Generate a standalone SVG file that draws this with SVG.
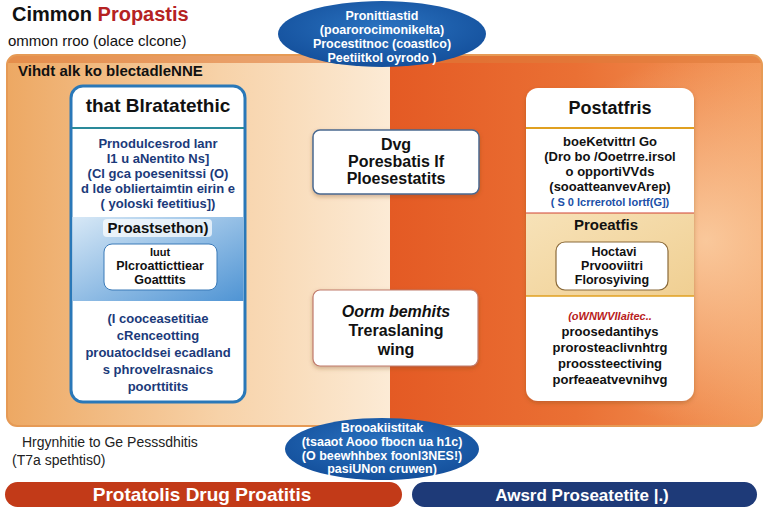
<svg xmlns="http://www.w3.org/2000/svg" width="768" height="512" viewBox="0 0 768 512">
<defs>
<linearGradient id="gl" x1="0" y1="0" x2="1" y2="0">
<stop offset="0" stop-color="#eda863"/>
<stop offset="0.55" stop-color="#f7d2a8"/>
<stop offset="1" stop-color="#fcebd6"/>
</linearGradient>
<linearGradient id="gr" x1="0" y1="0" x2="1" y2="0">
<stop offset="0" stop-color="#e45a24"/>
<stop offset="0.5" stop-color="#ea7034"/>
<stop offset="1" stop-color="#f39a5c"/>
</linearGradient>
<radialGradient id="glow" cx="0.85" cy="0.5" r="0.5">
<stop offset="0" stop-color="#fbd2a8" stop-opacity="0.85"/>
<stop offset="1" stop-color="#fbd2a8" stop-opacity="0"/>
</radialGradient>
<linearGradient id="gb" x1="0" y1="0" x2="1" y2="1">
<stop offset="0" stop-color="#d7e8f6"/>
<stop offset="1" stop-color="#4f94d4"/>
</linearGradient>
<linearGradient id="gt" x1="0" y1="0" x2="1" y2="1">
<stop offset="0" stop-color="#f7e2b8"/>
<stop offset="1" stop-color="#f0cf92"/>
</linearGradient>
<radialGradient id="ge" cx="0.5" cy="0.4" r="0.6">
<stop offset="0" stop-color="#2a72c0"/>
<stop offset="1" stop-color="#14509c"/>
</radialGradient>
<filter id="sh" x="-10%" y="-10%" width="120%" height="130%">
<feDropShadow dx="0" dy="2" stdDeviation="2" flood-color="#7a4a20" flood-opacity="0.35"/>
</filter>
</defs>
<style>
text{font-family:"Liberation Sans",Arial,sans-serif;font-weight:bold}
.c{text-anchor:middle}
.n{font-weight:normal}
.i{font-style:italic}
.nv{fill:#1b3a7a;font-size:13px}
.bk{fill:#111;font-size:13px}
.wt{fill:#fff;font-size:12.5px}
.mid{fill:#111;font-size:16px}
</style>
<rect width="768" height="512" fill="#fff"/>

<!-- title -->
<g id="title">
<text x="12" y="21" font-size="20" fill="#111">Cimmon <tspan fill="#b52222">Propastis</tspan></text>
<text class="n" x="8" y="46" font-size="15" fill="#111">ommon rroo (olace clcone)</text>
</g>

<!-- background panel -->
<g id="panel">
<clipPath id="pc"><rect x="7" y="55" width="755" height="371" rx="10"/></clipPath>
<g clip-path="url(#pc)">
<rect x="7" y="55" width="385" height="371" fill="url(#gl)"/>
<rect x="390" y="55" width="372" height="371" fill="url(#gr)"/>
<rect x="390" y="55" width="372" height="371" fill="url(#glow)"/>
<rect x="7" y="55" width="755" height="8" fill="#e07c3a" opacity="0.6"/>
</g>
<rect x="7" y="55" width="755" height="371" rx="10" fill="none" stroke="#e69a55" stroke-width="2"/>
<text x="18" y="76" font-size="15" fill="#111">Vihdt alk ko blectadleNNE</text>
</g>

<!-- top ellipse -->
<g id="top-ellipse">
<ellipse cx="382" cy="34" rx="104" ry="33" fill="url(#ge)"/>
<text class="c wt" x="382" y="20" font-size="15">Pronittiastid</text>
<text class="c wt" x="382" y="34">(poarorocimonikelta)</text>
<text class="c wt" x="382" y="48">Procestitnoc (coastlco)</text>
<text class="c wt" x="382" y="62">Peetiitkol oyrodo )</text>
</g>

<!-- left card -->
<g id="left-card">
<rect x="71" y="86" width="174" height="316" rx="12" fill="#fff" stroke="#2a78b8" stroke-width="3"/>
<line x1="72" y1="128" x2="244" y2="128" stroke="#2a8a9a" stroke-width="2"/>
<text class="c" x="158" y="112" font-size="19" fill="#111">that Blratatethic</text>
<text class="c nv" x="158" y="148">Prnodulcesrod lanr</text>
<text class="c nv" x="158" y="163">I1 u  aNentito Ns]</text>
<text class="c nv" x="158" y="178">(Cl gca poesenitssi (O)</text>
<text class="c nv" x="158" y="193">d lde obliertaimtin eirin e</text>
<text class="c nv" x="158" y="208" font-size="11">( yoloski feetitius])</text>
<rect x="72.5" y="217" width="171" height="84" fill="url(#gb)"/>
<rect x="103" y="219" width="109" height="18" rx="4" fill="#fff" opacity="0.7"/>
<text class="c" x="158" y="233" font-size="15" fill="#111">Proastsethon)</text>
<rect x="104" y="244" width="113" height="46" rx="8" fill="#fff" stroke="#3a7ab8" stroke-width="1"/>
<text class="c" x="160" y="256" font-size="11" fill="#111">Iuut</text>
<text class="c" x="160" y="270" font-size="12.5" fill="#111">Plcroatticttiear</text>
<text class="c" x="160" y="284" font-size="12.5" fill="#111">Goatttits</text>
<text class="c nv" x="158" y="323">(I cooceasetitiae</text>
<text class="c nv" x="158" y="340">cRenceotting</text>
<text class="c nv" x="158" y="357">prouatocldsei ecadland</text>
<text class="c nv" x="158" y="374">s phrovelrasnaics</text>
<text class="c nv" x="158" y="391">poorttitits</text>
</g>

<!-- middle boxes -->
<g id="mid-box-1">
<rect x="313" y="130" width="166" height="64" rx="7" fill="#fff" stroke="#4a6a90" stroke-width="1.5" filter="url(#sh)"/>
<text class="c mid" x="396" y="150">Dvg</text>
<text class="c mid" x="396" y="167">Poresbatis If</text>
<text class="c mid" x="396" y="184">Ploesestatits</text>
</g>
<g id="mid-box-2">
<rect x="313" y="290" width="165" height="76" rx="7" fill="#fff" stroke="#c07a6a" stroke-width="1.2" filter="url(#sh)"/>
<text class="c mid i" x="396" y="317">Oorm bemhits</text>
<text class="c mid" x="396" y="336">Treraslaning</text>
<text class="c mid" x="396" y="355">wing</text>
</g>

<!-- right card -->
<g id="right-card">
<rect x="526" y="88" width="168" height="313" rx="12" fill="#fff" filter="url(#sh)"/>
<line x1="526" y1="128" x2="694" y2="128" stroke="#e0a020" stroke-width="2"/>
<text class="c" x="610" y="114" font-size="18" fill="#111">Postatfris</text>
<text class="c bk" x="610" y="146">boeKetvittrl Go</text>
<text class="c bk" x="610" y="161">(Dro bo /Ooetrre.irsol</text>
<text class="c bk" x="610" y="176">o opportiVVds</text>
<text class="c bk" x="610" y="191">(sooatteanvevArep)</text>
<text class="c" x="610" y="206" font-size="11" fill="#2050a8">( S 0 lcrrerotol lortf(G])</text>
<rect x="526" y="213" width="168" height="83" fill="url(#gt)"/>
<line x1="526" y1="213" x2="694" y2="213" stroke="#d04030" stroke-width="1"/>
<line x1="526" y1="296" x2="694" y2="296" stroke="#e0a020" stroke-width="1.5"/>
<text class="c" x="606" y="230" font-size="15" fill="#111">Proeatfis</text>
<rect x="556" y="242" width="112" height="48" rx="9" fill="#fff" stroke="#8a6a3a" stroke-width="1.2"/>
<text class="c" x="614" y="256" font-size="12.5" fill="#111">Hoctavi</text>
<text class="c" x="612" y="270" font-size="12.5" fill="#111">Prvooviitri</text>
<text class="c" x="612" y="284" font-size="12.5" fill="#111">Florosyiving</text>
<text class="c i" x="610" y="320" font-size="11" fill="#b82020">(oWNWVIIaitec..</text>
<text class="c bk" x="610" y="336">proosedantihys</text>
<text class="c bk" x="610" y="352">prorosteaclivnhtrg</text>
<text class="c bk" x="610" y="368">proossteectiving</text>
<text class="c bk" x="610" y="384">porfeaeatvevnihvg</text>
</g>

<!-- bottom ellipse -->
<g id="bottom-ellipse">
<ellipse cx="382" cy="449" rx="97" ry="31" fill="url(#ge)"/>
<text class="c wt" x="382" y="432" font-size="14">Brooakiistitak</text>
<text class="c wt" x="382" y="446" font-size="11">(tsaaot Aooo fbocn ua h1c)</text>
<text class="c wt" x="382" y="459.5" font-size="11">(O beewhhbex foonl3NES!)</text>
<text class="c wt" x="382" y="473" font-size="11">pasiUNon cruwen)</text>
</g>

<!-- bottom-left note -->
<g id="note">
<text class="n" x="22" y="447" font-size="14" fill="#222">Hrgynhitie to Ge Pesssdhitis</text>
<text class="n" x="12" y="465" font-size="14" fill="#222">(T7a spethtis0)</text>
</g>

<!-- bottom bars -->
<g id="bar-left">
<rect x="5" y="482" width="397" height="25" rx="12.5" fill="#c23a18"/>
<text class="c" x="202" y="501" font-size="19" fill="#fff">Protatolis  Drug Proatitis</text>
</g>
<g id="bar-right">
<rect x="412" y="482" width="345" height="25" rx="12.5" fill="#1e3a78"/>
<text class="c" x="582" y="501" font-size="17" fill="#fff">Awsrd Proseatetite |.)</text>
</g>
</svg>
